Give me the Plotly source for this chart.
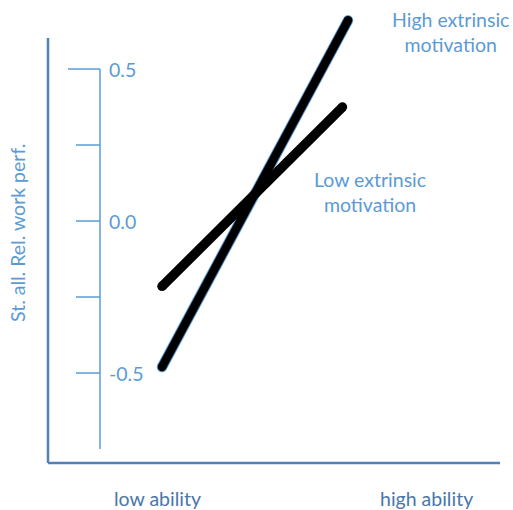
import plotly.graph_objects as go

# data
high_x = [0, 1]
high_y = [-0.48, 0.66]
low_x = [0, 0.97]
low_y = [-0.215, 0.375]
x_labels = ["low ability", "high ability"]
y_tickvals = [-0.5, -0.25, 0.0, 0.25, 0.5]
y_ticktext = ["-0.5", "", "0.0", "", "0.5"]
series_names = ["High extrinsic<br>motivation", "Low extrinsic<br>motivation"]
y_title = "St. all. Rel. work perf."

LIGHT = "#5b9bd5"
DARK = "#4f81bd"
XLBL = "#4a76ab"
FONT = "Lato"
FS = 19.5

# plot area spans page x 48..500, y 0..463
PW, PH = 452, 463
xr = [-0.613, 1.817]
yr = [-0.796, 0.727]
inner_x = xr[0] + (100 - 48) / PW * (xr[1] - xr[0])


def px(pagex):
    return (pagex - 48) / PW


def py(pagey):
    return (463 - pagey) / PH


fig = go.Figure()
fig.add_trace(go.Scatter(x=high_x, y=high_y, mode="lines+markers",
                         line=dict(color=LIGHT, width=10.5),
                         marker=dict(size=10.5, color=LIGHT), showlegend=False, hoverinfo="skip"))
fig.add_trace(go.Scatter(x=high_x, y=high_y, mode="lines+markers",
                         line=dict(color="black", width=8.5),
                         marker=dict(size=8.5, color="black"), showlegend=False))
fig.add_trace(go.Scatter(x=low_x, y=low_y, mode="lines+markers",
                         line=dict(color="black", width=9.5),
                         marker=dict(size=9.5, color="black"), showlegend=False))

shapes = [
    dict(type="line", xref="paper", yref="y", x0=0, x1=0, y0=yr[0], y1=0.602,
         line=dict(color=DARK, width=2.5)),
    dict(type="line", xref="paper", yref="paper", x0=0, x1=1, y0=0, y1=0,
         line=dict(color=DARK, width=2.5)),
    dict(type="line", xref="x", yref="y", x0=inner_x, x1=inner_x, y0=-0.75, y1=0.5,
         line=dict(color=LIGHT, width=1.5)),
]
tick_len = 24 * (xr[1] - xr[0]) / PW
for tv in y_tickvals:
    L = tick_len * (32 / 24 if tv == 0.5 else 1)
    shapes.append(dict(type="line", xref="x", yref="y", x0=inner_x - L, x1=inner_x,
                       y0=tv, y1=tv, line=dict(color=LIGHT, width=1.5)))

annotations = []
for tv, tt in zip(y_tickvals, y_ticktext):
    if tt:
        annotations.append(dict(x=inner_x, y=tv, xref="x", yref="y", text=tt, showarrow=False,
                                xanchor="left", yanchor="middle", xshift=7,
                                font=dict(family=FONT, size=FS, color=LIGHT)))
annotations.append(dict(x=px(18), y=py(233), xref="paper", yref="paper",
                        text=y_title, textangle=-90, showarrow=False,
                        xanchor="center", yanchor="middle",
                        font=dict(family=FONT, size=FS, color=LIGHT)))
for lbl, cx in zip(x_labels, [157, 426]):
    annotations.append(dict(x=px(cx), y=0, xref="paper", yref="paper", yshift=-35,
                            text=lbl, showarrow=False, xanchor="center", yanchor="middle",
                            font=dict(family=FONT, size=FS, color=XLBL)))
annotations.append(dict(x=px(450), y=py(32), xref="paper", yref="paper",
                        text=series_names[0], showarrow=False, align="center",
                        xanchor="center", yanchor="middle",
                        font=dict(family=FONT, size=FS, color=LIGHT)))
annotations.append(dict(x=px(370), y=py(192), xref="paper", yref="paper",
                        text=series_names[1], showarrow=False, align="center",
                        xanchor="center", yanchor="middle",
                        font=dict(family=FONT, size=FS, color=LIGHT)))

fig.update_layout(
    width=513, height=510,
    margin=dict(l=48, r=13, t=0, b=47),
    paper_bgcolor="white", plot_bgcolor="white",
    xaxis=dict(range=xr, visible=False),
    yaxis=dict(range=yr, visible=False),
    shapes=shapes, annotations=annotations,
)
fig.write_html("out.html", config={"displayModeBar": False},
               post_script="document.body.style.margin='0';document.body.style.overflow='hidden';")
